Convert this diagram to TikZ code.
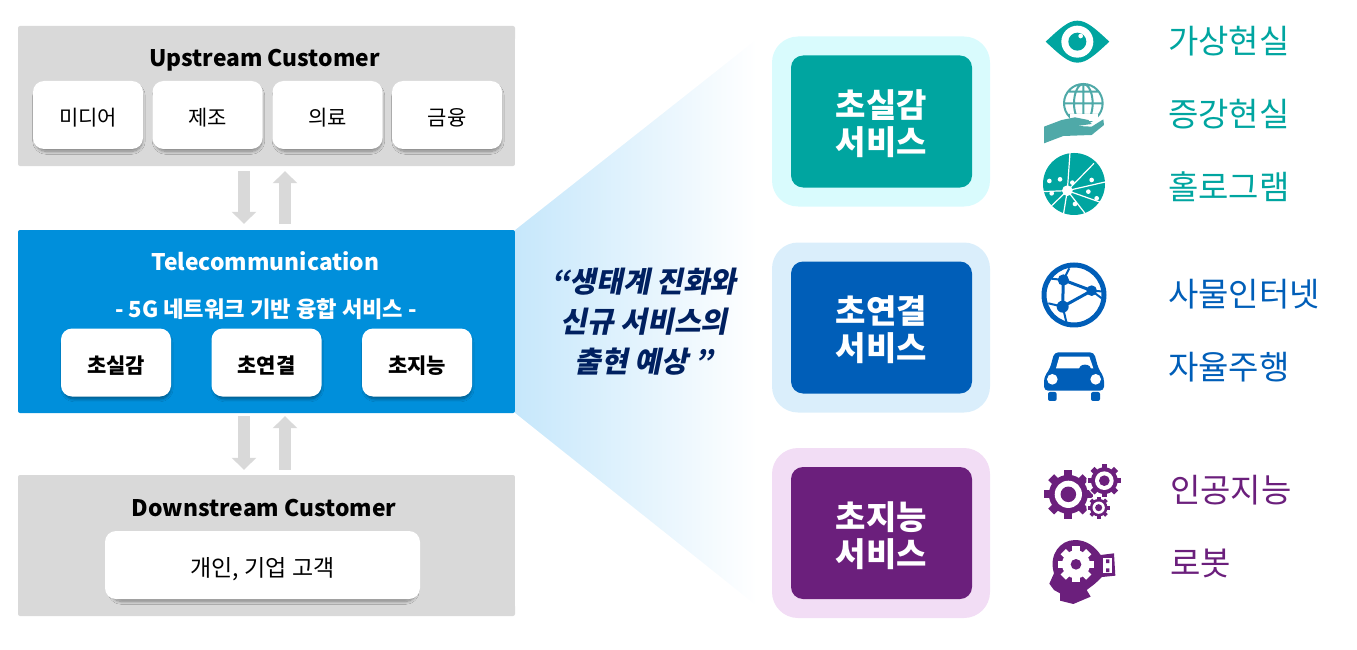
\documentclass[tikz,border=0pt]{standalone}
\usepackage{fontspec}
\usepackage{xcolor}
\usetikzlibrary{arrows.meta,shadows.blur}
\setmainfont{Noto Sans CJK KR}
\newfontfamily\quotefont[FakeSlant=0.2,BoldFeatures={FakeSlant=0.2}]{Noto Sans CJK KR}
\definecolor{panelgray}{HTML}{D9D9D9}
\definecolor{telecomblue}{HTML}{008FDB}
\definecolor{wedgeblue}{HTML}{C6E7FB}
\definecolor{quotenavy}{HTML}{002060}
\definecolor{realteal}{HTML}{00A5A0}
\definecolor{realpale}{HTML}{D9FBFD}
\definecolor{linkblue}{HTML}{005EB8}
\definecolor{linkpale}{HTML}{DAEEFB}
\definecolor{smartpurple}{HTML}{6B1F7C}
\definecolor{smartpale}{HTML}{F2DDF5}
\definecolor{globeteal}{HTML}{4FA9A8}
\tikzset{
    x=1pt, y=-1pt,
    panel-box/.style = {fill=#1, rectangle, rounded corners=2pt, inner sep=0pt, minimum width=497pt},
    panel-title/.style = {font=\fontsize{22.8}{28}\selectfont\bfseries, inner sep=0pt, text height=17pt, text depth=5pt},
    white-card/.style = {fill=white, rectangle, rounded corners=11pt, inner sep=0pt, minimum height=68pt,
        text height=24pt, text depth=2pt, font=\fontsize{21}{24}\selectfont,
        blur shadow={shadow xshift=1pt, shadow yshift=-3.5pt, shadow scale=0.97, shadow blur steps=12, shadow blur radius=3pt, shadow opacity=40}},
    flow-arrow/.style = {draw=panelgray, line width=12.5pt, -{Triangle[length=12pt, width=24pt]}},
    service-outer/.style = {fill=#1, rectangle, rounded corners=26pt, inner sep=0pt, minimum width=218pt, minimum height=170pt},
    service-inner/.style = {fill=#1, rectangle, rounded corners=12pt, inner sep=0pt, minimum width=181pt, minimum height=132pt},
    service-label/.style = {text=white, inner sep=0pt, align=center, font=\fontsize{33}{37}\selectfont\bfseries},
    item-label/.style = {text=#1, anchor=west, inner sep=0pt, font=\fontsize{33}{36}\selectfont},
    gear-icon/.pic = {
        \fill (0,0) circle (.8);
        \foreach \a in {0,45,...,315}
            \fill[rotate=\a] (-.17,-1) rectangle (.17,-.7);
        \fill[white] (0,0) circle (.56);
        \fill (0,0) circle (.32);
    },
}
\begin{document}
\begin{tikzpicture}
\useasboundingbox (0,0) rectangle (1357,650);

\node [panel-box=panelgray, minimum height=140pt] (upstream) at (266.5,96) {};
\node [panel-title] (upstream-title) at (264.5,61) {Upstream Customer};
\node [white-card, minimum width=110pt] (media) at (88,115) {미디어};
\node [white-card, minimum width=110pt] (making) at (207.5,115) {제조};
\node [white-card, minimum width=110pt] (medical) at (327.5,115) {의료};
\node [white-card, minimum width=110pt] (finance) at (447,115) {금융};

\node [panel-box=telecomblue, minimum height=183pt] (telecom) at (266.5,321.5) {};
\node [panel-title, text=white] (telecom-title) at (265.5,264) {Telecommunication};
\node [text=white, inner sep=0pt, font=\fontsize{22.2}{24}\selectfont\bfseries] (telecom-sub) at (266,309) {- 5G 네트워크 기반 융합 서비스 -};
\node [white-card, minimum width=110pt, font=\fontsize{21}{24}\selectfont\bfseries] (real-card) at (116,362.5) {초실감};
\node [white-card, minimum width=110pt, font=\fontsize{21}{24}\selectfont\bfseries] (link-card) at (266.5,362.5) {초연결};
\node [white-card, minimum width=110pt, font=\fontsize{21}{24}\selectfont\bfseries] (smart-card) at (417,362.5) {초지능};

\node [panel-box=panelgray, minimum height=141pt] (downstream) at (266.5,545.5) {};
\node [panel-title] (downstream-title) at (264,510) {Downstream Customer};
\node [white-card, minimum width=315pt, font=\fontsize{23}{24}\selectfont] (customer) at (262.5,565) {개인, 기업 고객};

\draw [flow-arrow] ([xshift=-22.5pt,yshift=-5pt]upstream.south) -- ([xshift=-22.5pt,yshift=6pt]telecom.north);
\draw [flow-arrow] ([xshift=18.5pt,yshift=6pt]telecom.north) -- ([xshift=18.5pt,yshift=-5pt]upstream.south);
\draw [flow-arrow] ([xshift=-22.5pt,yshift=-3pt]telecom.south) -- ([xshift=-22.5pt,yshift=5pt]downstream.north);
\draw [flow-arrow] ([xshift=18.5pt,yshift=5pt]downstream.north) -- ([xshift=18.5pt,yshift=-3pt]telecom.south);

\fill [left color=wedgeblue, right color=white] (515,40) rectangle (757,605);
\fill [white] (telecom.north east) -- (515,39) -- (757,39) -- cycle;
\fill [white] (telecom.south east) -- (515,606) -- (757,606) -- cycle;
\node [text=quotenavy, align=center, inner sep=0pt, font=\quotefont\fontsize{29}{40}\selectfont\bfseries] (forecast) at (644,322) {“생태계 진화와\\신규 서비스의\\출현 예상 ”};

\node [service-outer=realpale] (real-outer) at (881,121.5) {};
\node [service-inner=realteal] (real-inner) at (881.5,121.5) {};
\node [service-label] (real-label) at (881.5,124) {초실감\\서비스};
\node [service-outer=linkpale] (link-outer) at (881,327.5) {};
\node [service-inner=linkblue] (link-inner) at (881.5,327.5) {};
\node [service-label] (link-label) at (881.5,330) {초연결\\서비스};
\node [service-outer=smartpale] (smart-outer) at (881,533) {};
\node [service-inner=smartpurple] (smart-inner) at (881.5,533) {};
\node [service-label] (smart-label) at (881.5,535.5) {초지능\\서비스};

\node [item-label=realteal] (vr) at (1168,41) {가상현실};
\node [item-label=realteal] (ar) at (1168,114) {증강현실};
\node [item-label=realteal] (holo) at (1168,187) {홀로그램};
\node [item-label=linkblue] (iot) at (1168,294) {사물인터넷};
\node [item-label=linkblue] (auto) at (1168,367) {자율주행};
\node [item-label=smartpurple] (ai) at (1170,490) {인공지능};
\node [item-label=smartpurple] (robot) at (1170,563) {로봇};

% teal icons
\begin{scope}[shift={(1020,0)}, x=.3333pt, y=-.3333pt]
    \fill [realteal] (77,125) .. controls (120,85) and (145,62) .. (172,62) .. controls (200,62) and (225,85) .. (268,125)
        .. controls (225,165) and (200,188) .. (172,188) .. controls (145,188) and (120,165) .. (77,125) -- cycle;
    \fill [white] (172,125) circle (48);
    \fill [realteal] (172,125) circle (27);
    \fill [white] (182,108) circle (7);
    \draw [globeteal, line width=2pt] (190,310) circle (58) (190,310) ellipse (28 and 58) (132,310) -- (248,310)
        (145,275) -- (235,275) (145,345) -- (235,345) (190,252) -- (190,368);
    \fill [white] (150,342) rectangle (235,362);
    \fill [globeteal] (72,380) -- (125,360) -- (165,352) -- (205,360) -- (215,372) -- (172,378) -- (215,380) -- (250,358) -- (252,375) -- (215,405)
        -- (130,408) -- (72,430) -- cycle;
    \fill [realteal] (162,552) circle (93);
    \foreach \px/\py in {150/458,222/490,260/545,250/610,195/640,130/645,92/620,65/575}
        \draw [white, line width=1.2pt] (142,572) -- (\px,\py);
    \fill [white] (142,572) circle (16);
    \foreach \px/\py in {88/543,120/538,157/548,215/540,205/575,230/595,165/612,95/580}
        \fill [white] (\px,\py) circle (7);
\end{scope}

% blue icons
\begin{scope}[shift={(1020,240)}, x=.3333pt, y=-.3333pt]
    \draw [linkblue, line width=5pt] (162,165) circle (90);
    \draw [linkblue, line width=3pt] (130,120) -- (215,152) -- (128,200) -- cycle;
    \draw [linkblue, line width=2pt] (130,120) -- (148,85) (130,120) -- (85,115) (215,152) -- (255,155) (215,152) -- (245,175) (128,200) -- (85,190) (128,200) -- (140,250);
    \fill [linkblue] (130,120) circle (17) (215,152) circle (16) (128,200) circle (18);
    \fill [linkblue, rounded corners=4pt] (72,452) -- (72,412) -- (90,385) -- (103,337) -- (222,337) -- (235,385) -- (252,412) -- (252,452) -- cycle;
    \fill [white] (108,385) -- (118,350) -- (208,350) -- (220,385) -- cycle;
    \fill [linkblue] (195,388) ellipse (19 and 14);
    \fill [white] (97,418) circle (16) (227,418) circle (16);
    \fill [linkblue, rounded corners=2pt] (84,456) rectangle (110,483) (213,456) rectangle (240,483);
\end{scope}

% purple icons
\begin{scope}[shift={(1020,440)}, x=.3333pt, y=-.3333pt]
    \pic [smartpurple, scale=73] at (145,163) {gear-icon};
    \fill [white] (253,122) circle (54) (236,203) circle (37);
    \pic [smartpurple, scale=50] at (253,122) {gear-icon};
    \pic [smartpurple, scale=33] at (236,203) {gear-icon};
\end{scope}
\begin{scope}[shift={(1040,535)}, x=.3333pt, y=-.3333pt]
    \fill [smartpurple] (28,146) -- (42,115) .. controls (25,60) and (60,15) .. (105,15) .. controls (140,15) and (165,35) .. (182,60)
        -- (222,55) -- (226,122) -- (186,126) -- (165,146) -- (140,165) -- (152,185) -- (100,207) -- (60,197) -- (60,175) -- (42,165) -- cycle;
    \fill [white] (190,68) rectangle (216,115);
    \fill [smartpurple] (198,73) rectangle (208,84) (198,100) rectangle (208,111);
    \fill [white] (108,88) circle (42);
    \foreach \a in {0,45,...,315}
        \fill [white, rotate around={\a:(108,88)}] (97,34) rectangle (119,60);
    \fill [smartpurple] (108,88) circle (16);
\end{scope}
\end{tikzpicture}
\end{document}
